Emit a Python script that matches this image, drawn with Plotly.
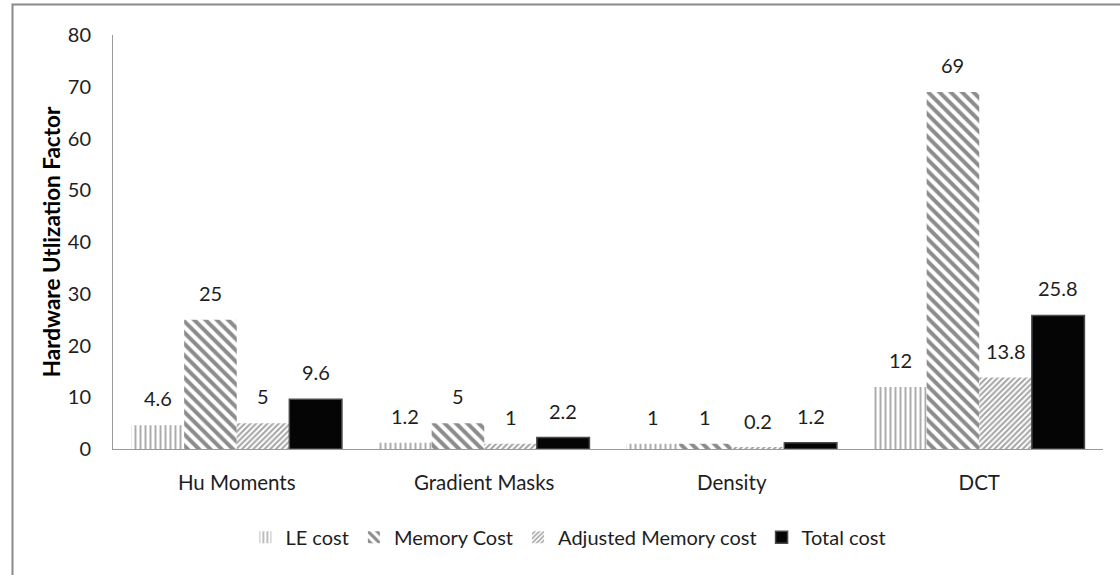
import plotly.graph_objects as go

# Feature extraction methods on the x axis
categories = ["Hu Moments", "Gradient Masks", "Density", "DCT"]

# Hardware utilisation per cost component
le_cost = [4.6, 1.2, 1, 12]
memory_cost = [25, 5, 1, 69]
adjusted_memory_cost = [5, 1, 0.2, 13.8]
total_cost = [9.6, 2.2, 1.2, 25.8]

y_ticks = [0, 10, 20, 30, 40, 50, 60, 70, 80]

FONT = "Lato, Carlito, Calibri, 'Noto Sans', sans-serif"
TEXT_COLOR = "#1e1e1e"
BAR_GAP = 0.15

series = [
    ("LE cost", le_cost,
     dict(color="white", line=dict(width=0),
          pattern=dict(shape="|", fgcolor="#5a5a5a", bgcolor="white",
                       size=5, solidity=0.4))),
    ("Memory Cost", memory_cost,
     dict(color="white", line=dict(width=0),
          pattern=dict(shape="\\", fgcolor="#1a1a1a", bgcolor="white",
                       size=8, solidity=0.5))),
    ("Adjusted Memory cost", adjusted_memory_cost,
     dict(color="white", line=dict(width=0),
          pattern=dict(shape="/", fgcolor="#4a4a4a", bgcolor="white",
                       size=4, solidity=0.5))),
    ("Total cost", total_cost,
     dict(color="#050505", line=dict(color="#4a4a4a", width=1.5))),
]

fig = go.Figure()
for name, values, marker in series:
    fig.add_trace(go.Bar(
        name=name,
        x=categories,
        y=values,
        marker=marker,
        hoverinfo="x+y+name",
    ))

# Value labels sitting above each bar of the grouped layout
n_series = len(series)
bar_w = (1 - BAR_GAP) / n_series
annotations = []
for k, (name, values, _) in enumerate(series):
    for ci, v in enumerate(values):
        annotations.append(dict(
            x=ci + (k - (n_series - 1) / 2) * bar_w,
            y=v,
            xref="x", yref="y",
            text=f"{v:g}",
            showarrow=False,
            yshift=27,
            yanchor="middle",
            font=dict(family=FONT, size=20, color=TEXT_COLOR),
        ))

fig.update_layout(
    width=1120,
    height=575,
    margin=dict(l=113, r=17, t=35, b=126),
    paper_bgcolor="white",
    plot_bgcolor="white",
    barmode="group",
    bargap=BAR_GAP,
    bargroupgap=0,
    font=dict(family=FONT, size=20, color=TEXT_COLOR),
    showlegend=True,
    legend=dict(
        orientation="h",
        x=0.46, xanchor="center",
        y=-0.213, yanchor="middle",
        font=dict(family=FONT, size=20, color=TEXT_COLOR),
        bgcolor="rgba(0,0,0,0)",
        traceorder="normal",
    ),
    annotations=annotations,
    shapes=[dict(
        type="rect", xref="paper", yref="paper",
        x0=-0.1015, x1=1.2, y0=-0.5, y1=1.0735,
        line=dict(color="#8a8a8a", width=2),
        fillcolor="rgba(0,0,0,0)",
        layer="below",
    )],
)

fig.update_xaxes(
    type="category",
    showline=True, linecolor="#9a9a9a", linewidth=1,
    showgrid=False, zeroline=False, ticks="",
    ticklabelstandoff=15,
    tickfont=dict(family=FONT, size=20.5, color=TEXT_COLOR),
)

fig.update_yaxes(
    range=[0, 80],
    tickvals=y_ticks,
    showline=True, linecolor="#9a9a9a", linewidth=1,
    showgrid=False, zeroline=False, ticks="",
    ticklabelstandoff=17,
    tickfont=dict(family=FONT, size=20, color=TEXT_COLOR),
    title=dict(
        text="<b>Hardware Utlization Factor</b>",
        font=dict(family=FONT, size=22.5, color="#000000"),
        standoff=0,
    ),
)

fig.write_html("out.html")
